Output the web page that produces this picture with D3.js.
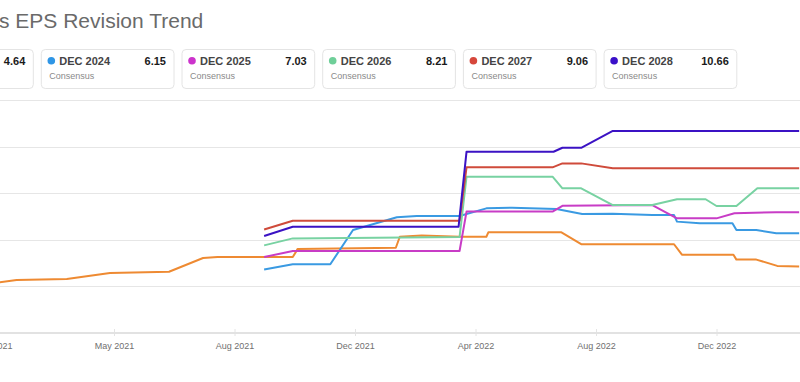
<!DOCTYPE html>
<html>
<head>
<meta charset="utf-8">
<script src="https://cdn.jsdelivr.net/npm/d3@7"></script>
<style>
  html, body { margin: 0; padding: 0; background: #fff; overflow: hidden; }
  svg { display: block; font-family: "Liberation Sans", Arial, sans-serif; }
</style>
</head>
<body>
<svg id="chart" width="800" height="382"></svg>
<script>
// ---- data ----
const title = "s EPS Revision Trend";
const seriesNames = ["DEC 2023", "DEC 2024", "DEC 2025", "DEC 2026", "DEC 2027", "DEC 2028"];
const seriesColors = ["#ee8a32", "#3a9ae2", "#c83cc6", "#78d2a2", "#cf4b3b", "#3b12c4"];
const dotColors = ["#ee8a32", "#2f96e6", "#cc33cc", "#6fcf99", "#d6473b", "#3a10c9"];
const latestValues = ["4.64", "6.15", "7.03", "8.21", "9.06", "10.66"];
const subLabel = "Consensus";
const tickDates = ["2021-01-01", "2021-05-01", "2021-08-01", "2021-12-01", "2022-04-01", "2022-08-01", "2022-12-01", "2023-04-01"];
const yTicks = [2, 4, 6, 8, 10, 12];

const dec2023 = [
  ["2021-01-01", 4.14], ["2021-01-24", 4.27], ["2021-03-15", 4.32], ["2021-04-27", 4.58],
  ["2021-06-12", 4.63], ["2021-07-08", 5.22], ["2021-07-19", 5.26], ["2021-09-29", 5.26],
  ["2021-10-04", 5.61], ["2022-01-11", 5.66], ["2022-01-15", 6.13], ["2022-02-06", 6.18],
  ["2022-03-16", 6.13], ["2022-04-12", 6.13], ["2022-04-14", 6.32], ["2022-06-27", 6.32],
  ["2022-07-17", 5.81], ["2022-10-19", 5.81], ["2022-10-27", 5.36], ["2022-12-18", 5.36],
  ["2022-12-21", 5.15], ["2023-01-10", 5.15], ["2023-01-31", 4.88], ["2023-02-22", 4.85]
];
const dec2024 = [
  ["2021-08-31", 4.73], ["2021-09-29", 4.95], ["2021-11-06", 4.95], ["2021-11-29", 6.42],
  ["2022-01-12", 6.97], ["2022-02-01", 7.02], ["2022-03-16", 7.02], ["2022-04-12", 7.35],
  ["2022-05-08", 7.38], ["2022-06-22", 7.32], ["2022-07-18", 7.11], ["2022-08-18", 7.12],
  ["2022-09-27", 7.06], ["2022-10-19", 7.06], ["2022-10-22", 6.78], ["2022-11-14", 6.71],
  ["2022-12-17", 6.71], ["2022-12-21", 6.42], ["2023-01-10", 6.42], ["2023-01-30", 6.28],
  ["2023-02-22", 6.28]
];
const dec2025 = [
  ["2021-08-31", 5.26], ["2021-09-29", 5.52], ["2022-03-16", 5.52], ["2022-03-23", 7.21],
  ["2022-06-18", 7.21], ["2022-06-28", 7.46], ["2022-09-27", 7.49], ["2022-10-22", 6.92],
  ["2022-12-01", 6.92], ["2022-12-19", 7.14], ["2023-01-30", 7.18], ["2023-02-22", 7.18]
];
const dec2026 = [
  ["2021-08-31", 5.76], ["2021-09-29", 6.06], ["2022-03-16", 6.12], ["2022-03-23", 8.71],
  ["2022-06-18", 8.71], ["2022-06-28", 8.21], ["2022-07-17", 8.21], ["2022-08-18", 7.49],
  ["2022-09-27", 7.49], ["2022-10-22", 7.74], ["2022-11-20", 7.74], ["2022-12-01", 7.45],
  ["2022-12-21", 7.45], ["2023-01-11", 8.21], ["2023-02-22", 8.21]
];
const dec2027 = [
  ["2021-08-31", 6.44], ["2021-09-29", 6.82], ["2022-03-16", 6.82], ["2022-03-23", 9.11],
  ["2022-06-18", 9.11], ["2022-06-28", 9.28], ["2022-07-17", 9.28], ["2022-08-18", 9.07],
  ["2023-02-22", 9.07]
];
const dec2028 = [
  ["2021-08-31", 6.16], ["2021-09-29", 6.56], ["2022-03-15", 6.56], ["2022-03-23", 9.78],
  ["2022-06-19", 9.78], ["2022-06-28", 9.95], ["2022-07-17", 9.95], ["2022-08-18", 10.67],
  ["2023-02-22", 10.67]
];
const seriesData = [dec2023, dec2024, dec2025, dec2026, dec2027, dec2028];

// ---- drawing ----
const parse = d3.timeParse("%Y-%m-%d");
const svg = d3.select("#chart");

svg.append("text")
  .attr("x", -1).attr("y", 28)
  .attr("font-size", 21).attr("fill", "#6a6a6a")
  .text(title);

// legend cards (the first card is partly outside the visible area)
const cardW = 132.7, cardH = 39, cardStep = 140.7, cardX0 = -99.4, cardY = 49.5;
const cards = svg.append("g").selectAll("g").data(seriesNames).join("g")
  .attr("transform", (d, i) => `translate(${cardX0 + i * cardStep},${cardY})`);
const visible = (i) => cardX0 + i * cardStep >= 0;
cards.append("rect")
  .attr("width", cardW).attr("height", cardH).attr("rx", 4)
  .attr("fill", "#fff").attr("stroke", "#e4e4e4");
cards.filter((d, i) => visible(i)).append("circle")
  .attr("cx", 10).attr("cy", 11.3).attr("r", 3.8)
  .attr("fill", d => dotColors[seriesNames.indexOf(d)]);
cards.filter((d, i) => visible(i)).append("text")
  .attr("x", 18).attr("y", 15.5)
  .attr("font-size", 11).attr("font-weight", "bold").attr("fill", "#444")
  .text(d => d);
cards.append("text")
  .attr("x", cardW - 8).attr("y", 15.5).attr("text-anchor", "end")
  .attr("font-size", 11).attr("font-weight", "bold").attr("fill", "#1a1a1a")
  .text((d, i) => latestValues[i]);
cards.filter((d, i) => visible(i)).append("text")
  .attr("x", 8).attr("y", 29.5)
  .attr("font-size", 9).attr("fill", "#8a8a8a")
  .text(subLabel);

// scales
const tickDomain = tickDates.map(parse);
const x = d3.scaleTime()
  .domain(tickDomain)
  .range(tickDomain.map((d, i) => -6.5 + i * 120.5));
const y = d3.scaleLinear().domain([2, 12]).range([333, 100]);

// grid
svg.append("g").selectAll("line").data(yTicks.slice(1)).join("line")
  .attr("x1", 0).attr("x2", 800)
  .attr("y1", d => Math.round(y(d)) + 0.5).attr("y2", d => Math.round(y(d)) + 0.5)
  .attr("stroke", "#e6e6e6").attr("stroke-width", 1);

// x axis
const xAxis = d3.axisBottom(x)
  .tickValues(tickDomain.slice(0, -1))
  .tickFormat(d3.timeFormat("%b %Y"))
  .tickSize(0).tickPadding(10);
const gx = svg.append("g").attr("transform", `translate(0,${y(2)})`).call(xAxis);
gx.select(".domain").remove();
gx.append("line").attr("x1", 0).attr("x2", 800).attr("y1", 0).attr("y2", 0)
  .attr("stroke", "#e2e2e2").attr("stroke-width", 2);
gx.selectAll(".tick").append("line")
  .attr("y1", -4).attr("y2", 3).attr("stroke", "#e4e4e4").attr("stroke-width", 1);
gx.selectAll(".tick text")
  .attr("font-size", 9).attr("fill", "#707070")
  .attr("font-family", "'Liberation Sans', Arial, sans-serif");

// lines
const line = d3.line()
  .x(d => x(parse(d[0])))
  .y(d => y(d[1]));
svg.append("g").selectAll("path").data(seriesData).join("path")
  .attr("d", line)
  .attr("fill", "none")
  .attr("stroke", (d, i) => seriesColors[i])
  .attr("stroke-width", 2)
  .attr("stroke-linejoin", "round");
</script>
</body>
</html>
